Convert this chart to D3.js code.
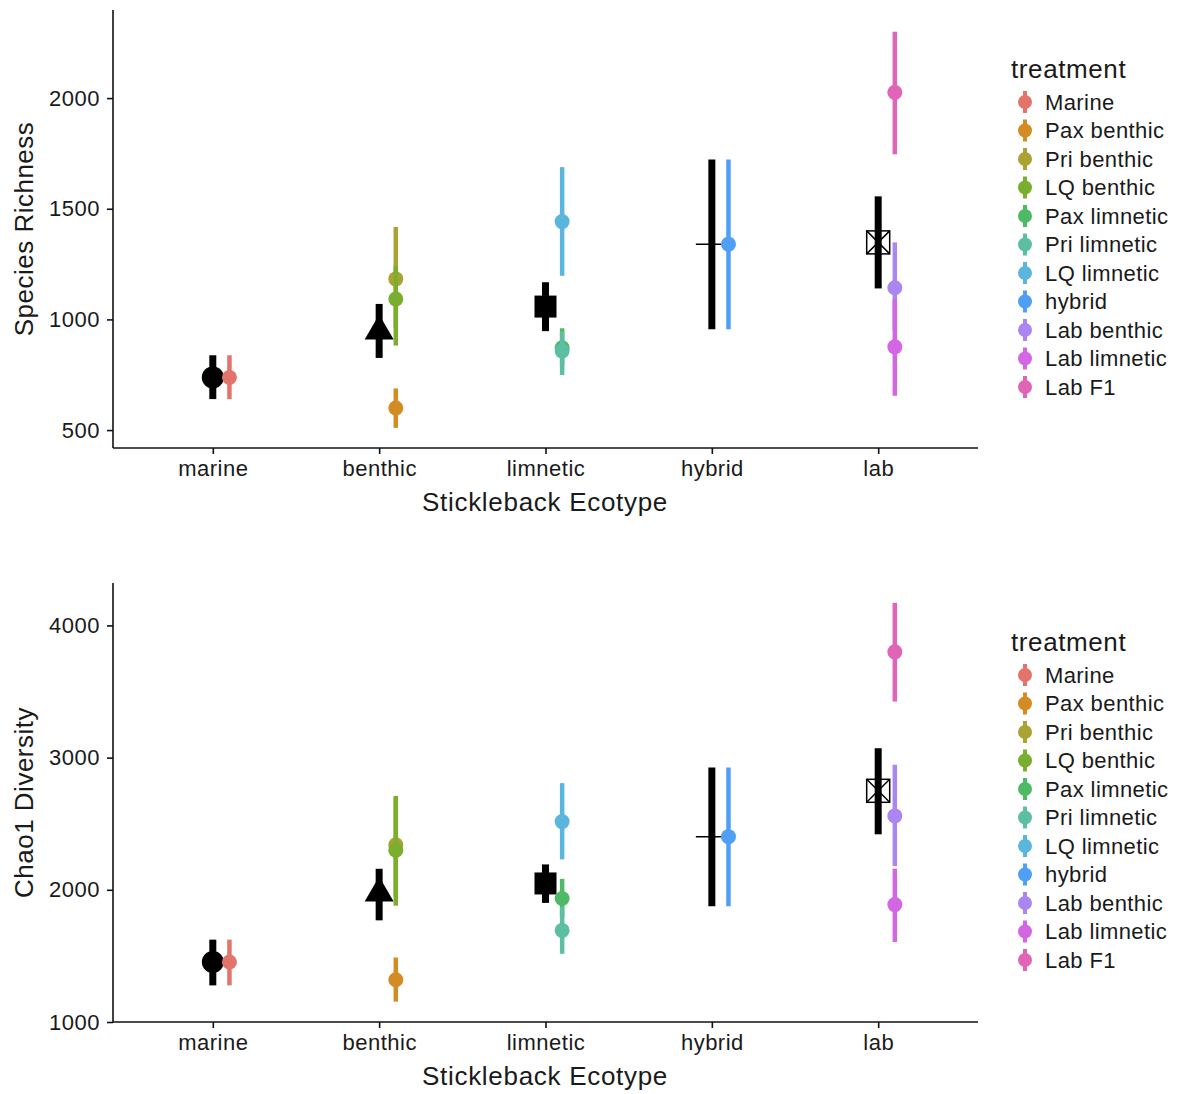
<!DOCTYPE html>
<html>
<head>
<meta charset="utf-8">
<script src="https://cdn.jsdelivr.net/npm/d3@7"></script>
<style>
  html, body { margin: 0; padding: 0; background: #fff; }
  svg { display: block; }
</style>
</head>
<body>
<div id="chart"></div>
<script>
const width = 1181;
const height = 1094;
const fontFamily = `"Liberation Sans", Arial, Helvetica, sans-serif`;

const ecotypes = ["marine", "benthic", "limnetic", "hybrid", "lab"];
const ecotypeShapes = ["circle", "triangle", "square", "plus", "squareCross"];

const treatments = [
  "Marine", "Pax benthic", "Pri benthic", "LQ benthic", "Pax limnetic",
  "Pri limnetic", "LQ limnetic", "hybrid", "Lab benthic", "Lab limnetic", "Lab F1",
];
const treatmentEcotype = [
  "marine", "benthic", "benthic", "benthic", "limnetic",
  "limnetic", "limnetic", "hybrid", "lab", "lab", "lab",
];
const treatmentColors = [
  "#e2746c", "#d38c24", "#aaa232", "#7aae2e", "#4fba66",
  "#5cbfa3", "#5ab6dd", "#4f9ff4", "#aa86f0", "#d366e2", "#e065b6",
];

// species richness
const richEcoMean = [738, 950, 1058, 1340, 1348];
const richEcoLow = [640, 826, 947, 956, 1140];
const richEcoHigh = [838, 1070, 1168, 1722, 1556];
const richMean = [738, 600, 1183, 1092, 872, 858, 1442, 1340, 1143, 876, 2026];
const richLow = [640, 510, 960, 882, 790, 749, 1197, 956, 950, 655, 1746];
const richHigh = [838, 688, 1418, 1240, 960, 945, 1688, 1722, 1348, 1090, 2300];
const richTicks = [500, 1000, 1500, 2000];

// chao1
const chaoEcoMean = [1454, 1980, 2048, 2402, 2749];
const chaoEcoLow = [1277, 1769, 1901, 1875, 2420];
const chaoEcoHigh = [1623, 2159, 2192, 2926, 3071];
const chaoMean = [1454, 1320, 2340, 2300, 1934, 1693, 2516, 2402, 2559, 1888, 3800];
const chaoLow = [1277, 1154, 1950, 1880, 1790, 1516, 2230, 1875, 2179, 1605, 3424];
const chaoHigh = [1623, 1488, 2700, 2710, 2083, 1870, 2807, 2926, 2946, 2160, 4171];
const chaoTicks = [1000, 2000, 3000, 4000];

const svg = d3.select("#chart")
  .append("svg")
  .attr("width", width)
  .attr("height", height)
  .attr("font-family", fontFamily);

const x = d3.scalePoint().domain(ecotypes).range([113, 978]).padding(0.6);
const dodge = x.step() * 0.1;
const color = d3.scaleOrdinal().domain(treatments).range(treatmentColors);

function zip(names, mean, low, high) {
  return names.map((n, i) => ({ name: n, mean: mean[i], low: low[i], high: high[i] }));
}

function drawShape(g, shape) {
  if (shape === "circle") {
    g.append("circle").attr("r", 11).attr("fill", "#000");
  } else if (shape === "triangle") {
    g.append("path").attr("d", "M0,-16L14.5,9L-14.5,9Z").attr("fill", "#000");
  } else if (shape === "square") {
    g.append("rect").attr("x", -11).attr("y", -11).attr("width", 22).attr("height", 22).attr("fill", "#000");
  } else if (shape === "plus") {
    g.append("path").attr("d", "M-16,0H16M0,-16V16").attr("stroke", "#000").attr("stroke-width", 1.5);
  } else if (shape === "squareCross") {
    g.append("rect").attr("x", -11.5).attr("y", -11.5).attr("width", 23).attr("height", 23)
      .attr("fill", "none").attr("stroke", "#000").attr("stroke-width", 1.5);
    g.append("path").attr("d", "M-11.5,-11.5L11.5,11.5M11.5,-11.5L-11.5,11.5")
      .attr("stroke", "#000").attr("stroke-width", 1.5);
  }
}

function drawPanel(opts) {
  const y = d3.scaleLinear().domain(opts.domain).range(opts.range);
  const [bottom, top] = opts.range;
  const g = svg.append("g");

  // axes
  const yAxis = g.append("g")
    .attr("transform", "translate(113,0)")
    .call(d3.axisLeft(y).tickValues(opts.ticks).tickFormat(d3.format("d"))
      .tickSize(6).tickPadding(7).tickSizeOuter(0));
  const xAxis = g.append("g")
    .attr("transform", `translate(0,${bottom})`)
    .call(d3.axisBottom(x).tickSize(6).tickPadding(6).tickSizeOuter(0));
  [yAxis, xAxis].forEach((a) => {
    a.select(".domain").attr("stroke", "#111").attr("stroke-width", 1.6);
    a.selectAll(".tick line").attr("stroke", "#111").attr("stroke-width", 1.6);
    a.selectAll(".tick text")
      .attr("fill", "#1a1a1a")
      .attr("font-family", fontFamily)
      .attr("font-size", 22)
      .attr("letter-spacing", 0.5);
  });
  yAxis.select(".domain").attr("d", `M0,${bottom}V${top}`);
  xAxis.select(".domain").attr("d", "M113,0H978");
  xAxis.selectAll(".tick text").attr("dy", "0.72em");

  g.append("text")
    .attr("x", 545)
    .attr("y", bottom + 63)
    .attr("text-anchor", "middle")
    .attr("font-size", 26)
    .attr("letter-spacing", 0.7)
    .attr("fill", "#1a1a1a")
    .text("Stickleback Ecotype");

  g.append("text")
    .attr("transform", `translate(33,${(top + bottom) / 2}) rotate(-90)`)
    .attr("text-anchor", "middle")
    .attr("font-size", 26)
    .attr("letter-spacing", 0.5)
    .attr("fill", "#1a1a1a")
    .text(opts.yTitle);

  // ecotype means (black)
  const eco = zip(ecotypes, opts.ecoMean, opts.ecoLow, opts.ecoHigh);
  const ecoG = g.append("g").selectAll("g").data(eco).join("g");
  ecoG.append("line")
    .attr("x1", (d) => x(d.name)).attr("x2", (d) => x(d.name))
    .attr("y1", (d) => y(d.low)).attr("y2", (d) => y(d.high))
    .attr("stroke", "#000").attr("stroke-width", 7);
  ecoG.append("g")
    .attr("transform", (d) => `translate(${x(d.name)},${y(d.mean)})`)
    .each(function (d, i) { drawShape(d3.select(this), ecotypeShapes[i]); });

  // treatment means (coloured)
  const trt = zip(treatments, opts.mean, opts.low, opts.high)
    .map((d, i) => ({ ...d, eco: treatmentEcotype[i] }));
  const trtG = g.append("g").selectAll("g").data(trt).join("g");
  trtG.append("line")
    .attr("x1", (d) => x(d.eco) + dodge).attr("x2", (d) => x(d.eco) + dodge)
    .attr("y1", (d) => y(d.low)).attr("y2", (d) => y(d.high))
    .attr("stroke", (d) => color(d.name)).attr("stroke-width", 4.5);
  trtG.append("circle")
    .attr("cx", (d) => x(d.eco) + dodge)
    .attr("cy", (d) => y(d.mean))
    .attr("r", 7.5)
    .attr("fill", (d) => color(d.name));

  // legend
  const legend = g.append("g").attr("transform", `translate(1011,${opts.legendTop})`);
  legend.append("text")
    .attr("y", 0)
    .attr("font-size", 26)
    .attr("letter-spacing", 0.6)
    .attr("fill", "#1a1a1a")
    .text("treatment");
  const item = legend.selectAll(".key").data(treatments).join("g")
    .attr("class", "key")
    .attr("transform", (d, i) => `translate(0,${24 + i * 28.5})`);
  item.append("line")
    .attr("x1", 14).attr("x2", 14).attr("y1", -11).attr("y2", 11)
    .attr("stroke", (d) => color(d)).attr("stroke-width", 4);
  item.append("circle")
    .attr("cx", 14).attr("r", 7)
    .attr("fill", (d) => color(d));
  item.append("text")
    .attr("x", 34)
    .attr("dy", "0.36em")
    .attr("font-size", 22)
    .attr("letter-spacing", 0.4)
    .attr("fill", "#1a1a1a")
    .text((d) => d);
}

drawPanel({
  domain: [419, 2398], range: [448, 10], ticks: richTicks, yTitle: "Species Richness",
  ecoMean: richEcoMean, ecoLow: richEcoLow, ecoHigh: richEcoHigh,
  mean: richMean, low: richLow, high: richHigh, legendTop: 78,
});

drawPanel({
  domain: [1000, 4321], range: [1022, 583], ticks: chaoTicks, yTitle: "Chao1 Diversity",
  ecoMean: chaoEcoMean, ecoLow: chaoEcoLow, ecoHigh: chaoEcoHigh,
  mean: chaoMean, low: chaoLow, high: chaoHigh, legendTop: 651,
});
</script>
</body>
</html>
